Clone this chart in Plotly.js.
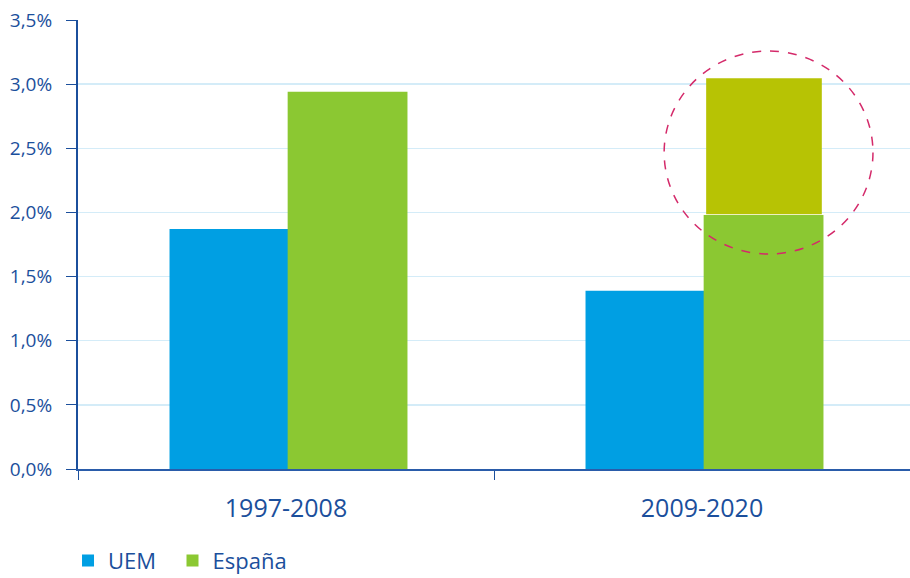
<!DOCTYPE html>
<html>
<head>
<meta charset="utf-8">
<script src="https://cdn.plot.ly/plotly-3.0.1.min.js"></script>
<style>
  html, body { margin: 0; padding: 0; background: #fff; }
  #chart { width: 910px; height: 578px; }
</style>
</head>
<body>
<div id="chart"></div>
<script>
const periods = ["1997-2008", "2009-2020"];
const uem = [1.87, 1.39];
const espana = [2.94, 1.98];
const espanaExtra = [null, 1.06]; // tramo destacado sobre 2009-2020

const blue = "#009fe3";
const green = "#8bc832";
const olive = "#b7c304";
const navy = "#1b4f9c";
const font = "Open Sans, sans-serif";

const traces = [
  {
    type: "bar", name: "UEM\u00a0\u00a0", x: periods, y: uem,
    offset: -0.28, width: 0.286,
    marker: { color: blue }, hoverinfo: "skip"
  },
  {
    type: "bar", name: "España", x: periods, y: espana,
    offset: 0.004, width: 0.288,
    marker: { color: green }, hoverinfo: "skip"
  },
  {
    type: "bar", name: "extra", x: periods, y: espanaExtra,
    base: espana.map(v => v + 0.005),
    offset: 0.01, width: 0.278,
    marker: { color: olive }, showlegend: false, hoverinfo: "skip"
  }
];

const layout = {
  width: 910, height: 578,
  margin: { l: 78, r: 0, t: 20, b: 109, autoexpand: false },
  paper_bgcolor: "#fff", plot_bgcolor: "#fff",
  barmode: "overlay",
  separators: ",.",
  font: { family: font, color: navy },
  showlegend: true,
  legend: {
    orientation: "h", x: -0.012, xanchor: "left",
    yref: "container", y: 0.03, yanchor: "middle",
    font: { size: 22, color: navy, family: font },
    itemwidth: 30, traceorder: "normal"
  },
  xaxis: {
    type: "category", range: [-0.5, 1.5], automargin: false,
    showline: true, linecolor: "#2a5caa", linewidth: 2,
    ticks: "outside", tickson: "boundaries", ticklen: 9, tickcolor: navy, tickwidth: 1,
    ticklabelstandoff: 16,
    tickfont: { size: 25, color: navy, family: font },
    showgrid: false, zeroline: false
  },
  yaxis: {
    range: [0, 3.5], dtick: 0.5, tickformat: ".1f", ticksuffix: "%", automargin: false,
    showline: true, linecolor: navy, linewidth: 2,
    ticks: "outside", ticklen: 10, tickcolor: navy, tickwidth: 1,
    ticklabelstandoff: 10,
    tickfont: { size: 19, color: navy, family: font },
    showgrid: true, gridcolor: "#d4ecf8", gridwidth: 1.5,
    zeroline: false
  },
  shapes: [
    {
      type: "circle", xref: "x", yref: "y",
      x0: 0.909, x1: 1.411, y0: 1.676, y1: 3.258,
      line: { color: "#d42a6a", width: 1.5, dash: "dash" }
    }
  ]
};

Plotly.newPlot("chart", traces, layout, { staticPlot: true, displayModeBar: false });
</script>
</body>
</html>
